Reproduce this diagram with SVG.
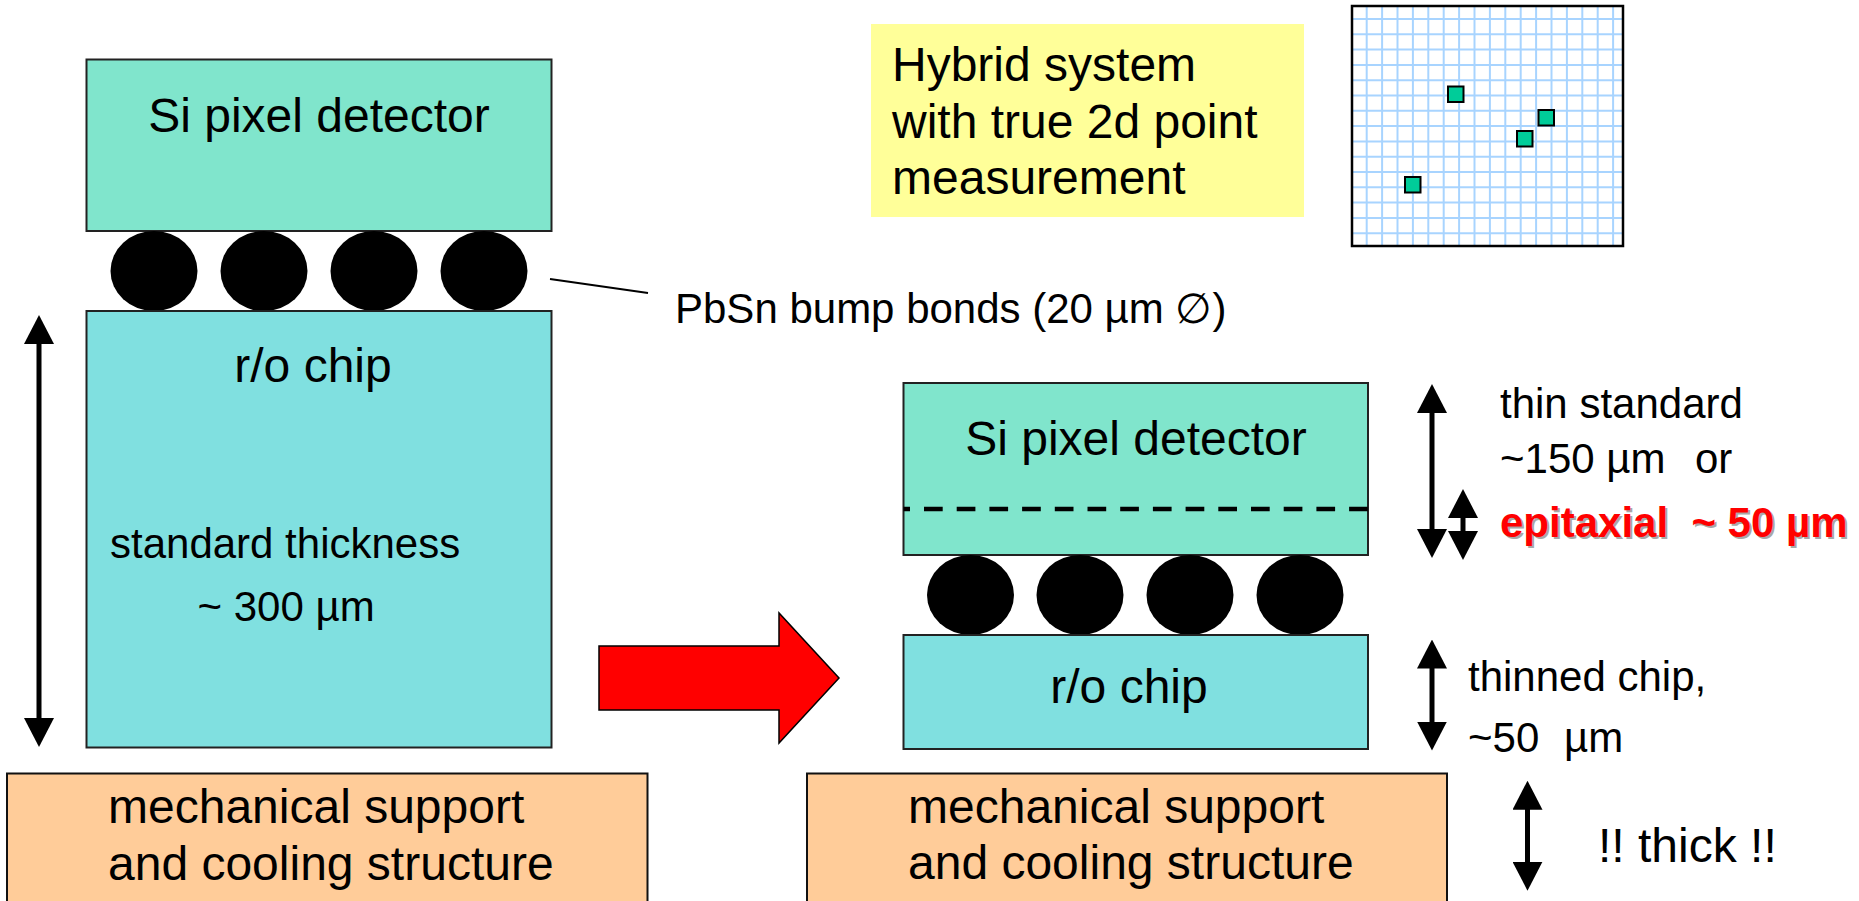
<svg xmlns="http://www.w3.org/2000/svg" width="1859" height="901" viewBox="0 0 1859 901">
<style>
text{font-family:"Liberation Sans",Arial,sans-serif;fill:#000;white-space:pre}
.t48{font-size:48px}
.t42{font-size:42px}
.mid{text-anchor:middle}
.det{fill:#80E5CC;stroke:#222;stroke-width:2}
.chip{fill:#80E0E0;stroke:#222;stroke-width:2}
.mech{fill:#FFCC99;stroke:#111;stroke-width:2}
.bump{fill:#000}
.shaft{stroke:#000;stroke-width:5;fill:none}
.grid line{stroke:#A8D4FF;stroke-width:2}
.hit{fill:#00CC99;stroke:#000;stroke-width:2}
.epi{font-size:42px;font-weight:bold}
</style>
<defs>
<marker id="ah" viewBox="0 0 29 30" refX="14" refY="15" markerWidth="29" markerHeight="30" markerUnits="userSpaceOnUse" orient="auto-start-reverse">
<path d="M0,0 L29,15 L0,30 z" fill="#000"/>
</marker>
</defs>
<rect width="1859" height="901" fill="#fff"/>

<g id="left-detector">
<rect class="det" x="86.5" y="59.5" width="465" height="171.5"/>
<text class="t48 mid" x="319" y="131.7">Si pixel detector</text>
</g>
<g id="left-bumps">
<ellipse class="bump" cx="154" cy="271" rx="43.5" ry="40"/>
<ellipse class="bump" cx="264" cy="271" rx="43.5" ry="40"/>
<ellipse class="bump" cx="374" cy="271" rx="43.5" ry="40"/>
<ellipse class="bump" cx="484" cy="271" rx="43.5" ry="40"/>
</g>
<g id="left-chip">
<rect class="chip" x="86.5" y="311" width="465" height="436.5"/>
<text class="t48 mid" x="313" y="381.7">r/o chip</text>
<text class="t42" x="110" y="558.3">standard thickness</text>
<text class="t42" x="197.5" y="620.5">~ 300 µm</text>
</g>
<g id="left-support">
<rect class="mech" x="7" y="773.5" width="640.5" height="140"/>
<text class="t48" x="108" y="823.3">mechanical support</text>
<text class="t48" x="108" y="880">and cooling structure</text>
</g>
<g id="bump-label">
<text class="t42" x="675" y="323.3">PbSn bump bonds (20 µm ∅)</text>
</g>
<g id="hybrid-label">
<rect x="871" y="24" width="433" height="193" fill="#FFFF99"/>
<text class="t48" x="892" y="81">Hybrid system</text>
<text class="t48" x="892" y="138">with true 2d point</text>
<text class="t48" x="892" y="194">measurement</text>
</g>
<g id="pixel-grid">
<rect x="1352" y="6" width="271" height="240" fill="#fff"/>
<g class="grid">
<line x1="1366.7" y1="6" x2="1366.7" y2="246"/>
<line x1="1382.1" y1="6" x2="1382.1" y2="246"/>
<line x1="1397.5" y1="6" x2="1397.5" y2="246"/>
<line x1="1412.9" y1="6" x2="1412.9" y2="246"/>
<line x1="1428.3" y1="6" x2="1428.3" y2="246"/>
<line x1="1443.7" y1="6" x2="1443.7" y2="246"/>
<line x1="1459.1" y1="6" x2="1459.1" y2="246"/>
<line x1="1474.5" y1="6" x2="1474.5" y2="246"/>
<line x1="1489.9" y1="6" x2="1489.9" y2="246"/>
<line x1="1505.3" y1="6" x2="1505.3" y2="246"/>
<line x1="1520.7" y1="6" x2="1520.7" y2="246"/>
<line x1="1536.1" y1="6" x2="1536.1" y2="246"/>
<line x1="1551.5" y1="6" x2="1551.5" y2="246"/>
<line x1="1566.9" y1="6" x2="1566.9" y2="246"/>
<line x1="1582.3" y1="6" x2="1582.3" y2="246"/>
<line x1="1597.7" y1="6" x2="1597.7" y2="246"/>
<line x1="1613.1" y1="6" x2="1613.1" y2="246"/>
<line x1="1352" y1="19" x2="1623" y2="19"/>
<line x1="1352" y1="34.3" x2="1623" y2="34.3"/>
<line x1="1352" y1="49.6" x2="1623" y2="49.6"/>
<line x1="1352" y1="64.9" x2="1623" y2="64.9"/>
<line x1="1352" y1="80.2" x2="1623" y2="80.2"/>
<line x1="1352" y1="95.5" x2="1623" y2="95.5"/>
<line x1="1352" y1="110.8" x2="1623" y2="110.8"/>
<line x1="1352" y1="126.1" x2="1623" y2="126.1"/>
<line x1="1352" y1="141.4" x2="1623" y2="141.4"/>
<line x1="1352" y1="156.7" x2="1623" y2="156.7"/>
<line x1="1352" y1="172" x2="1623" y2="172"/>
<line x1="1352" y1="187.3" x2="1623" y2="187.3"/>
<line x1="1352" y1="202.6" x2="1623" y2="202.6"/>
<line x1="1352" y1="217.9" x2="1623" y2="217.9"/>
<line x1="1352" y1="233.2" x2="1623" y2="233.2"/>
</g>
<rect x="1352" y="6" width="271" height="240" fill="none" stroke="#000" stroke-width="2.5"/>
<rect class="hit" x="1448" y="86.5" width="15.5" height="15.5"/>
<rect class="hit" x="1538.5" y="110" width="15.5" height="15.5"/>
<rect class="hit" x="1517" y="131" width="15.5" height="15.5"/>
<rect class="hit" x="1405" y="177" width="15.5" height="15.5"/>
</g>
<g id="transition-arrow">
<polygon points="599,646 779,646 779,613 839,678 779,743 779,710 599,710" fill="#FF0000" stroke="#000" stroke-width="1.5"/>
</g>
<g id="right-detector">
<rect class="det" x="903.5" y="383" width="464.5" height="172"/>
<line x1="903.5" y1="509" x2="1368" y2="509" stroke="#000" stroke-width="4.5" stroke-dasharray="18.7 14" stroke-dashoffset="12.2"/>
<text class="t48 mid" x="1136" y="455">Si pixel detector</text>
</g>
<g id="right-bumps">
<ellipse class="bump" cx="970.5" cy="595" rx="43.5" ry="40"/>
<ellipse class="bump" cx="1080" cy="595" rx="43.5" ry="40"/>
<ellipse class="bump" cx="1190" cy="595" rx="43.5" ry="40"/>
<ellipse class="bump" cx="1300" cy="595" rx="43.5" ry="40"/>
</g>
<g id="right-chip">
<rect class="chip" x="903.5" y="635" width="464.5" height="114"/>
<text class="t48 mid" x="1129" y="703">r/o chip</text>
</g>
<g id="right-support">
<rect class="mech" x="807" y="773.5" width="640" height="140"/>
<text class="t48" x="908" y="823.3">mechanical support</text>
<text class="t48" x="908" y="879.3">and cooling structure</text>
</g>
<g id="thickness-labels">
<text class="t42" x="1500" y="418.3">thin standard</text>
<text class="t42" x="1500" y="473.3">~150 µm<tspan x="1695">or</tspan></text>
<text class="epi" x="1502" y="538.7" style="fill:#A8A8A8">epitaxial  ~ 50 µm</text>
<text class="epi" x="1500" y="536.7" style="fill:#FF0000">epitaxial  ~ 50 µm</text>
<text class="t42" x="1468" y="691">thinned chip,</text>
<text class="t42" x="1468" y="751.7">~50<tspan x="1564">µm</tspan></text>
<text class="t48" x="1598" y="861.7">!! thick !!</text>
</g>
<g id="connectors">
<line x1="550" y1="279" x2="648" y2="293" stroke="#000" stroke-width="1.8"/>
<line class="shaft" x1="39" y1="330" x2="39" y2="732" marker-start="url(#ah)" marker-end="url(#ah)"/>
<line class="shaft" x1="1432" y1="399" x2="1432" y2="543" marker-start="url(#ah)" marker-end="url(#ah)"/>
<line class="shaft" x1="1463" y1="504" x2="1463" y2="545" marker-start="url(#ah)" marker-end="url(#ah)"/>
<line class="shaft" x1="1432" y1="654.5" x2="1432" y2="735.5" marker-start="url(#ah)" marker-end="url(#ah)"/>
<line class="shaft" x1="1527.5" y1="795.7" x2="1527.5" y2="875.7" marker-start="url(#ah)" marker-end="url(#ah)"/>
</g>
</svg>
